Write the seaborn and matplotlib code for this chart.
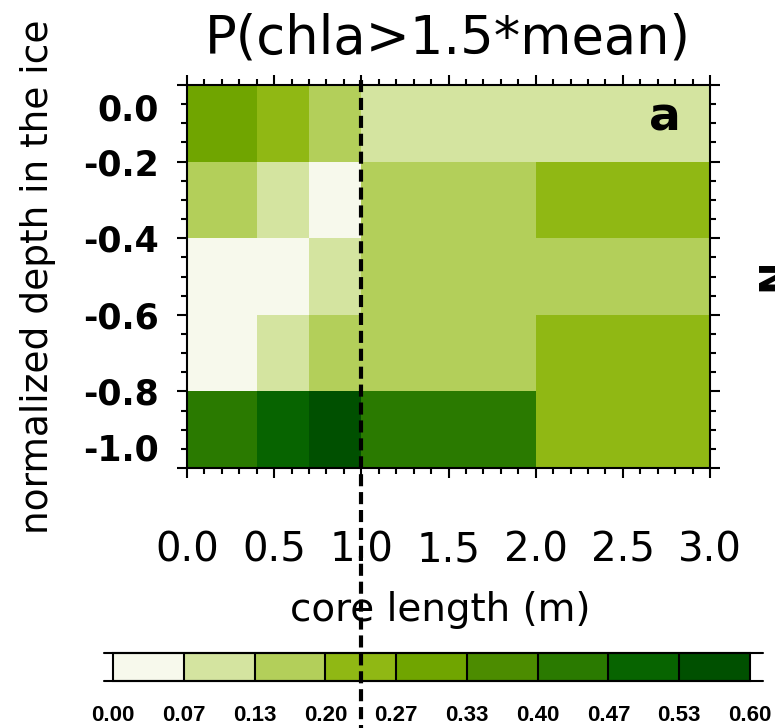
import numpy as np
import matplotlib
matplotlib.use("Agg")
import matplotlib.pyplot as plt
from matplotlib.colors import ListedColormap, BoundaryNorm
from matplotlib.lines import Line2D
from matplotlib.ticker import MultipleLocator
from matplotlib.transforms import ScaledTranslation
import seaborn as sns

# ---- data -------------------------------------------------------------
# core-length bin edges (m) and normalized depth tick labels
core_edges = [0.0, 0.4, 0.7, 1.0, 2.0, 3.0]
depth_labels = ["0.0", "-0.2", "-0.4", "-0.6", "-0.8", "-1.0"]
core_tick_labels = ["0.0", "0.5", "1.0", "1.5", "2.0", "2.5", "3.0"]

# probability that chla exceeds 1.5 * mean, rows from ice top (0.0) to bottom (-1.0)
prob_top     = [0.30, 0.23, 0.17, 0.10, 0.10]
prob_upper   = [0.17, 0.10, 0.03, 0.17, 0.23]
prob_middle  = [0.03, 0.03, 0.10, 0.17, 0.17]
prob_lower   = [0.03, 0.10, 0.17, 0.17, 0.23]
prob_bottom  = [0.43, 0.50, 0.56, 0.43, 0.23]

levels = [0.00, 0.07, 0.13, 0.20, 0.27, 0.33, 0.40, 0.47, 0.53, 0.60]
level_colors = ["#F7F9EC", "#D4E4A0", "#B3CF5A", "#90B814", "#70A500",
                "#4C8C00", "#2A7A00", "#076400", "#005000"]
threshold_length = 1.0  # m

# ---- style --------------------------------------------------------------
sns.set_style("ticks")
plt.rcParams["font.family"] = ["DejaVu Sans"]
plt.rcParams["axes.linewidth"] = 1.5
for key in ("text.color", "axes.labelcolor", "xtick.color", "ytick.color",
            "axes.edgecolor"):
    plt.rcParams[key] = "black"

cmap = ListedColormap(sns.color_palette(level_colors))
norm = BoundaryNorm(levels, cmap.N)

# expand the irregular core-length bins onto a regular 0.1 m grid
step = 0.1
widths = np.rint(np.diff(core_edges) / step).astype(int)
prob = np.array([prob_top, prob_upper, prob_middle, prob_lower, prob_bottom])
grid = np.repeat(prob, widths, axis=1)

W, H = 775, 728
fig = plt.figure(figsize=(W / 100, H / 100), dpi=100)
fig.patch.set_facecolor("white")
ax = fig.add_axes([187 / W, 1 - 468 / H, (710 - 187) / W, (468 - 85) / H])

sns.heatmap(grid, ax=ax, cmap=cmap, norm=norm, cbar=False,
            xticklabels=False, yticklabels=False)

for s in ax.spines.values():
    s.set_visible(True)
    s.set_color("black")
    s.set_linewidth(1.5)

n_cols = grid.shape[1]
ax.set_xticks(np.arange(0, n_cols + 1, 5))
ax.set_xticklabels(core_tick_labels, fontsize=29)
ax.set_yticks(np.arange(len(depth_labels)))
ax.set_yticklabels(depth_labels, fontsize=25, fontweight="bold", rotation=0)
ax.xaxis.set_minor_locator(MultipleLocator(1))
ax.yaxis.set_minor_locator(MultipleLocator(0.25))
ax.tick_params(which="both", direction="out", top=True, right=True,
               bottom=True, left=True, labeltop=False, labelright=False,
               color="black", width=1.5)
ax.tick_params(which="major", length=7)
ax.tick_params(which="minor", length=4)
ax.tick_params(axis="x", which="major", pad=38)
ax.tick_params(axis="y", which="major", pad=13)

# keep the end labels of the depth axis inside the frame
ylabels = ax.get_yticklabels()
ylabels[0].set_transform(ylabels[0].get_transform()
                         + ScaledTranslation(0, -0.22, fig.dpi_scale_trans))
ylabels[-1].set_transform(ylabels[-1].get_transform()
                          + ScaledTranslation(0, 0.21, fig.dpi_scale_trans))

ax.set_xlabel("core length (m)", fontsize=28, va="center")
ax.xaxis.set_label_coords((440 - 187) / (710 - 187), (468 - 610) / (468 - 85))
ax.set_ylabel("normalized depth in the ice", fontsize=27, labelpad=20)

fig.text(448 / W, 1 - 39 / H, "P(chla>1.5*mean)", fontsize=38,
         ha="center", va="center")
ax.text(0.914, 0.914, "a", transform=ax.transAxes, fontsize=34,
        fontweight="bold", ha="center", va="center")

# edge of a neighbouring panel label
fig.text(755 / W, 1 - 275 / H, "N", fontsize=28, fontweight="bold",
         rotation=90, ha="left", va="center")

# ---- colorbar -----------------------------------------------------------
cb_left, cb_right, cb_top, cb_bot = 113, 750, 653, 681
cax = fig.add_axes([cb_left / W, 1 - cb_bot / H, (cb_right - cb_left) / W,
                    (cb_bot - cb_top) / H])
cb = fig.colorbar(ax.collections[0], cax=cax, orientation="horizontal",
                  drawedges=True, ticks=levels)
cb.ax.set_xticklabels([f"{v:.2f}" for v in levels], fontsize=16,
                      fontweight="bold", family="Liberation Sans")
cb.ax.tick_params(length=0, pad=17)
cb.outline.set_linewidth(1.5)
cb.outline.set_edgecolor("black")
cb.dividers.set_color("black")
cb.dividers.set_linewidth(1.5)
for yy in (cb_top, cb_bot):
    fig.add_artist(Line2D([104 / W, 763 / W], [1 - yy / H, 1 - yy / H],
                          transform=fig.transFigure, color="black", lw=1.5))

# dashed marker at the 1 m core length, running down through the colorbar
fig.canvas.draw()
xd = threshold_length / step
x_disp = ax.transData.transform((xd, 0))[0]
x_fig = fig.transFigure.inverted().transform((x_disp, 0))[0]
fig.add_artist(Line2D([x_fig, x_fig], [1 - 80 / H, 0.0],
                      transform=fig.transFigure, color="black", lw=3,
                      linestyle=(0, (2.9, 1.4)), zorder=20))

fig.savefig("out.png", dpi=100, facecolor="white")
